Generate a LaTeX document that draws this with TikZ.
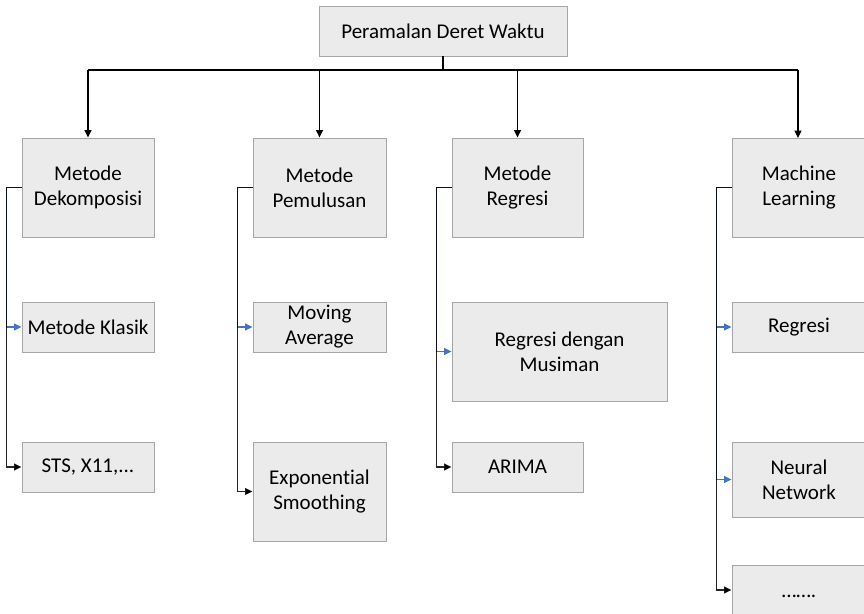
\documentclass[tikz,border=0pt]{standalone}
\usepackage{fontspec}
\setmainfont[Ligatures={NoCommon}]{Carlito}
\usetikzlibrary{arrows.meta}
\definecolor{boxfill}{HTML}{EBEBEB}
\definecolor{boxline}{HTML}{A6A6A6}
\definecolor{linkblue}{HTML}{4472C4}
\begin{document}
\begin{tikzpicture}[x=1pt,y=-1pt,
  box/.style={draw=boxline,fill=boxfill,line width=0.9pt,inner sep=0pt,align=center,
    font=\fontsize{21}{25}\selectfont},
  tip/.style={-{Triangle[length=7.5pt,width=7pt]}},
  conn/.style={line width=1.35pt,tip},
  bconn/.style={conn,draw=linkblue},
  kconn/.style={conn,draw=black,draw opacity=0.85}]
\useasboundingbox (0,0) rectangle (864,613);
% nodes
\node[box,minimum width=248pt,minimum height=50pt] (top) at (443,31) {Peramalan Deret Waktu};
\node[box,minimum width=132pt,minimum height=99pt] (d1) at (88,187.5) {Metode\\Dekomposisi};
\node[box,minimum width=132pt,minimum height=50pt] (d2) at (88,327) {Metode Klasik};
\node[box,minimum width=132pt,minimum height=50pt] (d3) at (88,467) {STS, X11,...};
\node[box,minimum width=133pt,minimum height=99pt] (p1) at (319.5,187.5) {Metode\\Pemulusan};
\node[box,minimum width=133pt,minimum height=50pt] (p2) at (319.5,327) {Moving\\Average};
\node[box,minimum width=133pt,minimum height=99pt] (p3) at (319.5,491.5) {Exponential\\Smoothing};
\node[box,minimum width=131pt,minimum height=99pt] (r1) at (517.5,187.5) {Metode\\Regresi};
\node[box,minimum width=215pt,minimum height=99pt] (r2) at (559.5,351.5) {Regresi dengan\\Musiman};
\node[box,minimum width=131pt,minimum height=50pt] (r3) at (517.5,467) {ARIMA};
\node[box,minimum width=134pt,minimum height=99pt] (m1) at (799,187.5) {Machine\\Learning};
\node[box,minimum width=134pt,minimum height=50pt] (m2) at (799,327) {Regresi};
\node[box,minimum width=134pt,minimum height=75pt] (m3) at (799,479.5) {Neural\\Network};
\node[box,minimum width=134pt,minimum height=50pt,text height=15pt,text depth=0pt] (m4) at (799,590) {…….};
% top connectors
\coordinate (hub) at (443,70);
\draw[line width=1.2pt] (top.south) -- (hub);
\draw[line width=1.2pt] (88,70) -- (798,70);
\draw[conn,line width=1.2pt] (88,70) -- (d1.north);
\draw[conn,line width=1.2pt] (319.5,70) -- (p1.north);
\draw[conn,line width=1.2pt] (517.5,70) -- (r1.north);
\draw[conn,line width=1.2pt] (798,70) -- (798,138);
% left connectors
\draw[bconn] (d1.west) -- ++(-15,0) |- (d2.west);
\draw[kconn] (d1.west) -- ++(-15,0) |- (d3.west);
\draw[bconn] (p1.west) -- ++(-15,0) |- (p2.west);
\draw[kconn] (p1.west) -- ++(-15,0) |- (p3.west);
\draw[bconn] (r1.west) -- ++(-15,0) |- (r2.west);
\draw[kconn] (r1.west) -- ++(-15,0) |- (r3.west);
\draw[bconn] (m1.west) -- ++(-15,0) |- (m2.west);
\draw[bconn] (m1.west) -- ++(-15,0) |- (m3.west);
\draw[kconn] (m1.west) -- ++(-15,0) |- (m4.west);
\end{tikzpicture}
\end{document}
